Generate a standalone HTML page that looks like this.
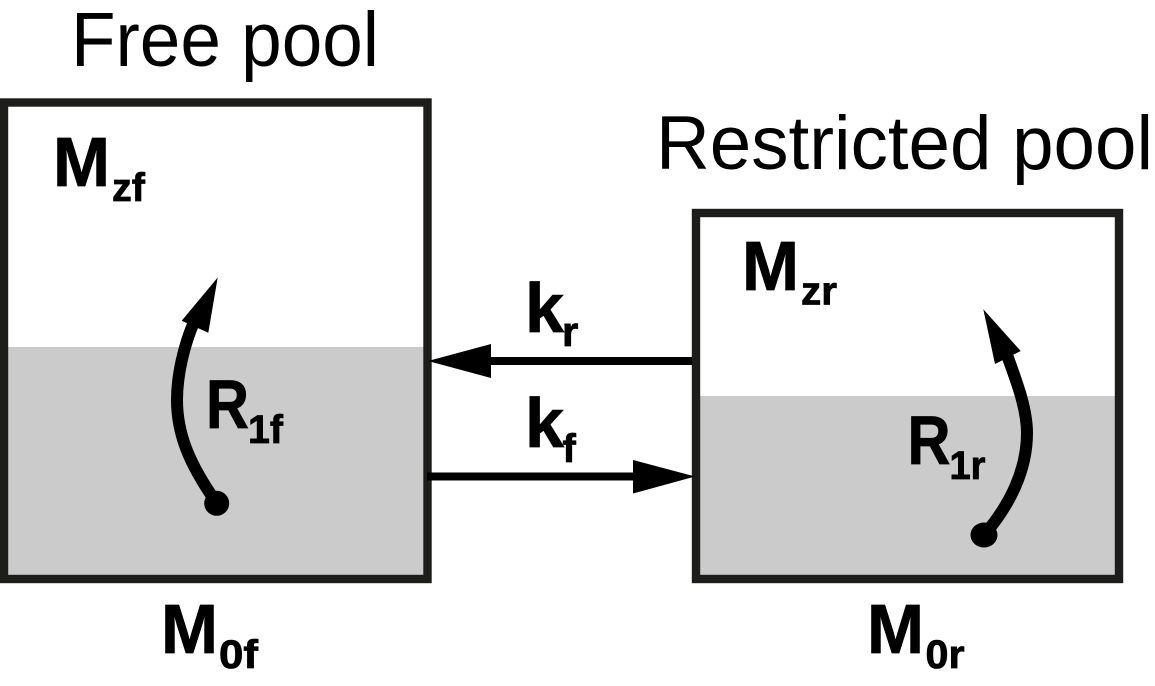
<!DOCTYPE html>
<html><head><meta charset="utf-8">
<style>html,body{margin:0;padding:0;background:#fff}svg{display:block}text{font-family:"Liberation Sans",sans-serif;fill:#000}.b{font-weight:bold;stroke:#000;stroke-width:.8}</style>
</head><body>
<svg width="1155" height="686" viewBox="0 0 1155 686" xmlns="http://www.w3.org/2000/svg">
<rect width="1155" height="686" fill="#fff"/>
<rect x="4" y="347" width="423" height="232" fill="#cbcbcb"/>
<rect x="696" y="396" width="423" height="183" fill="#cbcbcb"/>
<rect x="4" y="102.5" width="423.5" height="476.5" fill="none" stroke="#1d1d1b" stroke-width="8.4"/>
<rect x="696" y="213" width="423" height="366" fill="none" stroke="#1d1d1b" stroke-width="8.4"/>
<text x="71" y="66" font-size="77" textLength="308" lengthAdjust="spacingAndGlyphs">Free pool</text>
<text x="656" y="169" font-size="76" textLength="497" lengthAdjust="spacingAndGlyphs">Restricted pool</text>
<text class="b" x="53" y="186" font-size="70" textLength="57" lengthAdjust="spacingAndGlyphs">M</text><text class="b" x="112" y="201" font-size="40" textLength="33" lengthAdjust="spacingAndGlyphs">zf</text>
<text class="b" x="742" y="290" font-size="70" textLength="57" lengthAdjust="spacingAndGlyphs">M</text><text class="b" x="801" y="304.5" font-size="40" textLength="36" lengthAdjust="spacingAndGlyphs">zr</text>
<text class="b" x="161" y="653" font-size="70" textLength="57" lengthAdjust="spacingAndGlyphs">M</text><text class="b" x="219" y="668" font-size="40" textLength="39" lengthAdjust="spacingAndGlyphs">0f</text>
<text class="b" x="867" y="653" font-size="70" textLength="57" lengthAdjust="spacingAndGlyphs">M</text><text class="b" x="925.5" y="668" font-size="40" textLength="39" lengthAdjust="spacingAndGlyphs">0r</text>
<text class="b" x="206" y="428" font-size="69" textLength="43" lengthAdjust="spacingAndGlyphs">R</text><text class="b" x="248" y="443" font-size="40" textLength="35" lengthAdjust="spacingAndGlyphs">1f</text>
<text class="b" x="907.5" y="464" font-size="69" textLength="43" lengthAdjust="spacingAndGlyphs">R</text><text class="b" x="949.5" y="479" font-size="40" textLength="36" lengthAdjust="spacingAndGlyphs">1r</text>
<text class="b" x="525" y="332" font-size="70">k</text><text class="b" x="562" y="346" font-size="42">r</text>
<text class="b" x="525" y="447" font-size="70">k</text><text class="b" x="562.5" y="462" font-size="40">f</text>
<path d="M488 361H692" stroke="#000" stroke-width="8" fill="none"/>
<polygon points="428,361 491,344 491,378" fill="#000"/>
<path d="M427 476.5H636" stroke="#000" stroke-width="8" fill="none"/>
<polygon points="695,476.5 633,460 633,493.5" fill="#000"/>
<path d="M216.7 503C190 465 177 435 177 400C177 375 184 345 194 322" stroke="#000" stroke-width="12" fill="none"/>
<polygon points="217.7,277.5 181.7,320.7 208.3,332.7" fill="#000"/>
<circle cx="216.7" cy="503.3" r="12.5" fill="#000"/>
<path d="M984 535C1010 505 1027 470 1027 433C1027 410 1018 385 1007 355" stroke="#000" stroke-width="12" fill="none"/>
<polygon points="983.3,309.3 1020.7,351 995,364" fill="#000"/>
<ellipse cx="984" cy="535" rx="13.5" ry="12.5" fill="#000"/>
</svg>
</body></html>
